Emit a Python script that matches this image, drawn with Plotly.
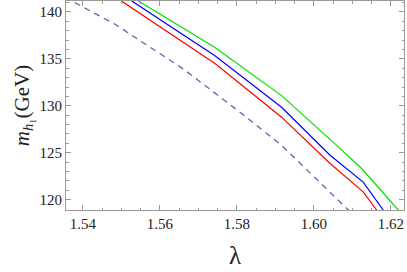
import plotly.graph_objects as go

# Curves (lambda, m_h1 in GeV)
red_x = [1.5470, 1.5500, 1.5743, 1.5916, 1.6042, 1.6128, 1.6163, 1.6180]
red_y = [143.2, 141.17, 134.52, 128.79, 123.85, 120.84, 118.90, 117.9]

blue_x = [1.5500, 1.5527, 1.5743, 1.5916, 1.6042, 1.6128, 1.6180, 1.6195]
blue_y = [142.9, 141.17, 135.33, 129.85, 124.73, 121.87, 118.90, 118.0]

green_x = [1.5510, 1.5544, 1.5743, 1.5916, 1.6059, 1.6124, 1.6219, 1.6240]
green_y = [143.3, 141.17, 136.21, 131.09, 125.79, 123.32, 118.90, 117.8]

dash_x = [1.5379, 1.5483, 1.5661, 1.5808, 1.5916, 1.6042, 1.6094, 1.6110]
dash_y = [140.99, 138.70, 133.92, 129.32, 125.79, 120.84, 118.72, 118.0]

x_ticks = [1.54, 1.56, 1.58, 1.60, 1.62]
x_ticklabels = ["1.54", "1.56", "1.58", "1.60", "1.62"]
y_ticks = [120, 125, 130, 135, 140]

SERIF = "Liberation Serif, Times New Roman, serif"

fig = go.Figure()
fig.add_trace(go.Scatter(x=dash_x, y=dash_y, mode="lines",
                         line=dict(color="#6262b0", width=1.3, dash="6px,5px")))
fig.add_trace(go.Scatter(x=red_x, y=red_y, mode="lines",
                         line=dict(color="#ff0000", width=1.2)))
fig.add_trace(go.Scatter(x=blue_x, y=blue_y, mode="lines",
                         line=dict(color="#0000ff", width=1.2)))
fig.add_trace(go.Scatter(x=green_x, y=green_y, mode="lines",
                         line=dict(color="#00e000", width=1.2)))

axis_common = dict(
    showgrid=False, zeroline=False, showline=True, linecolor="#9a9a9a",
    linewidth=1, mirror="allticks", ticks="inside", tickcolor="#9a9a9a",
    ticklen=5, tickwidth=1,
    tickfont=dict(family=SERIF, size=15, color="#222"),
)

fig.update_layout(
    width=407, height=272,
    margin=dict(l=66, r=3, t=1, b=62, autoexpand=False),
    paper_bgcolor="white", plot_bgcolor="white",
    showlegend=False,
    xaxis=dict(range=[1.5356, 1.6234], tickvals=x_ticks, ticktext=x_ticklabels,
               minor=dict(dtick=0.005, ticks="inside", ticklen=2.5, tickcolor="#9a9a9a"),
               title=dict(text="λ", standoff=15,
                          font=dict(family=SERIF, size=25, color="#222")),
               **axis_common),
    yaxis=dict(range=[118.9, 141.17], tickvals=y_ticks,
               minor=dict(dtick=1, ticks="inside", ticklen=2.5, tickcolor="#9a9a9a"),
               title=dict(text="<i>m</i><sub><i>h</i>₁</sub>(GeV)", standoff=4,
                          font=dict(family=SERIF, size=21, color="#222")),
               **axis_common),
)

fig.write_html("out.html", config={"displayModeBar": False},
               post_script="document.body.style.margin='0';document.body.style.overflow='hidden';")
